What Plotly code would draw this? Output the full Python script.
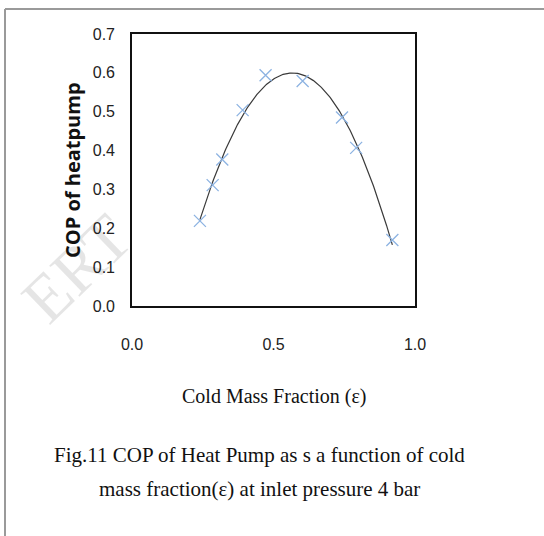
import numpy as np
import plotly.graph_objects as go

# Data
cold_mass_fraction = [0.240, 0.285, 0.319, 0.391, 0.472, 0.603, 0.742, 0.792, 0.920]
cop_heat_pump = [0.219, 0.311, 0.377, 0.504, 0.594, 0.579, 0.485, 0.407, 0.170]
y_ticks = [0.0, 0.1, 0.2, 0.3, 0.4, 0.5, 0.6, 0.7]
x_ticks = [0.0, 0.5, 1.0]

# Polynomial trendline (as Excel)
coef = np.polyfit(cold_mass_fraction, cop_heat_pump, 2)
xt = np.linspace(min(cold_mass_fraction), max(cold_mass_fraction), 200)
yt = np.polyval(coef, xt)

W, H = 544, 536
L, R, T, B = 132, 415, 34, 306  # plot area in px


def px(x):
    return (x - L) / (R - L)


def py(y):
    return (B - y) / (B - T)


fig = go.Figure()
fig.add_trace(go.Scatter(x=xt, y=yt, mode="lines",
                         line=dict(color="#3a3a3a", width=1.2),
                         hoverinfo="skip", showlegend=False))
fig.add_trace(go.Scatter(x=cold_mass_fraction, y=cop_heat_pump, mode="markers",
                         marker=dict(symbol="x-thin", size=12,
                                     line=dict(color="#8db3e2", width=1.3)),
                         showlegend=False))

tick_font = dict(family="Liberation Sans, Arial", size=16, color="#222")
fig.update_xaxes(range=[0, 1], tickvals=x_ticks, ticktext=[f"{v:.1f}" for v in x_ticks],
                 showgrid=False, zeroline=False, showline=True, mirror=True,
                 linecolor="#111", linewidth=1.6, ticks="", tickfont=tick_font,
                 ticklabelstandoff=23)
fig.update_yaxes(range=[0, 0.7], tickvals=y_ticks, ticktext=[f"{v:.1f}" for v in y_ticks],
                 showgrid=False, zeroline=False, showline=True, mirror=True,
                 linecolor="#111", linewidth=1.6, ticks="", tickfont=tick_font,
                 ticklabelstandoff=12)

serif = "Liberation Serif, Times New Roman, serif"
ann = [
    dict(text="ERT", x=px(76), y=py(268), textangle=-44,
         font=dict(family=serif, size=66, color="rgba(0,0,0,0.1)"), xanchor="center", yanchor="middle"),
    dict(text="<b>COP of heatpump</b>", x=px(72), y=py(170), textangle=-90,
         font=dict(family="Open Sans, Liberation Sans", size=20, color="#111"),
         xanchor="center", yanchor="middle"),
    dict(text="Cold Mass Fraction (ε)", x=px(274), y=py(396),
         font=dict(family=serif, size=20, color="#111"), xanchor="center", yanchor="middle"),
    dict(text="Fig.11 COP of Heat Pump as s a function of cold", x=px(259.5), y=py(455),
         font=dict(family=serif, size=21, color="#111"), xanchor="center", yanchor="middle"),
    dict(text="mass fraction(ε) at inlet pressure 4 bar", x=px(259.5), y=py(489),
         font=dict(family=serif, size=21, color="#111"), xanchor="center", yanchor="middle"),
]
for a in ann:
    a.update(xref="paper", yref="paper", showarrow=False)

shapes = [
    dict(type="line", xref="paper", yref="paper", x0=px(5), x1=px(560), y0=py(9), y1=py(9),
         line=dict(color="#9a9a9a", width=2)),
    dict(type="line", xref="paper", yref="paper", x0=px(5), x1=px(5), y0=py(9), y1=py(560),
         line=dict(color="#9a9a9a", width=2)),
]

fig.update_layout(width=W, height=H, margin=dict(l=L, r=W - R, t=T, b=H - B),
                  paper_bgcolor="white", plot_bgcolor="white",
                  annotations=ann, shapes=shapes)
fig.write_html("out.html")
